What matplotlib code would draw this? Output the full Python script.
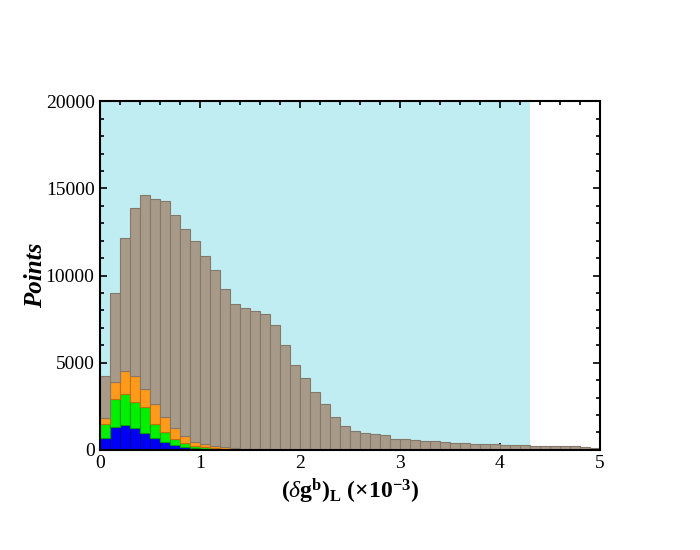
#!/usr/bin/env python3
# Stacked histogram of (delta g^b)_L for the scanned points

import numpy as np
import matplotlib.pyplot as plt
from matplotlib.patches import Rectangle
from matplotlib.ticker import MultipleLocator

plt.rcParams['font.family'] = 'Liberation Serif'
plt.rcParams['mathtext.fontset'] = 'custom'
plt.rcParams['mathtext.rm'] = 'Liberation Serif'
plt.rcParams['mathtext.it'] = 'Liberation Serif:italic'
plt.rcParams['mathtext.bf'] = 'Liberation Serif:bold'

bin_width = 0.1
bin_left = np.arange(0, 5, bin_width)

# counts per bin, each layer on its own (not cumulative)
blue_counts = [705, 1320, 1450, 1280, 990, 690, 460, 270, 150, 95,
               55, 35, 20, 12, 8, 5, 3, 2, 1, 1] + [0] * 30
green_counts = [785, 1580, 1760, 1450, 1460, 800, 570, 380, 270, 155,
                100, 65, 45, 30, 20, 12, 8, 5, 3, 2] + [0] * 30
orange_counts = [360, 1015, 1335, 1530, 1050, 1150, 880, 630, 400, 230,
                 170, 130, 105, 78, 50, 35, 25, 15, 10, 6] + [0] * 30
total_counts = [4240, 8980, 12130, 13850, 14610, 14400, 14270, 13470, 12660, 12010,
                11100, 10310, 9210, 8350, 8120, 7950, 7770, 7170, 6000, 4870,
                4110, 3300, 2620, 1890, 1390, 1110, 975, 917, 840, 630,
                630, 555, 500, 500, 460, 380, 380, 325, 330, 310,
                290, 280, 260, 250, 240, 200, 230, 215, 195, 130]

cyan_range = (0.0, 4.3)

blue = np.array(blue_counts, dtype=float)
green = np.array(green_counts, dtype=float)
orange = np.array(orange_counts, dtype=float)
grey = np.array(total_counts, dtype=float) - blue - green - orange

fig = plt.figure(figsize=(7, 5.5), dpi=100)
ax = fig.add_axes([0.143, 0.182, 0.714, 0.634])

ax.add_patch(Rectangle((cyan_range[0], 0), cyan_range[1] - cyan_range[0], 20000,
                       facecolor='#bfedf2', edgecolor='none', zorder=0))

layers = [(blue, '#0000f5', '#00009a'),
          (green, '#00f000', '#00a000'),
          (orange, '#ff9a1a', '#c07010'),
          (grey, '#a89a88', '#85776a')]
bottom = np.zeros(len(bin_left))
for vals, fc, ec in layers:
    ax.bar(bin_left, vals, width=bin_width, bottom=bottom, align='edge',
           color=fc, edgecolor=ec, linewidth=0.8, zorder=2)
    bottom = bottom + vals

ax.set_xlim(0, 5)
ax.set_ylim(0, 20000)
ax.xaxis.set_major_locator(MultipleLocator(1))
ax.xaxis.set_minor_locator(MultipleLocator(0.2))
ax.yaxis.set_major_locator(MultipleLocator(5000))
ax.yaxis.set_minor_locator(MultipleLocator(1000))
ax.tick_params(which='both', direction='in', top=True, right=True,
               labelsize=14, width=1.2, pad=4)
ax.tick_params(which='major', length=5)
ax.tick_params(which='minor', length=3)
for sp in ax.spines.values():
    sp.set_linewidth(1.5)
    sp.set_zorder(5)

ax.set_ylabel('Points', fontsize=18, fontweight='bold', style='italic', labelpad=-1)
ax.set_xlabel(r'$\mathbf{(}\mathit{\delta}\mathbf{g^b)_L\ (\times 10^{-3})}$',
              fontsize=17, labelpad=3)

fig.savefig('out.png', dpi=100)
